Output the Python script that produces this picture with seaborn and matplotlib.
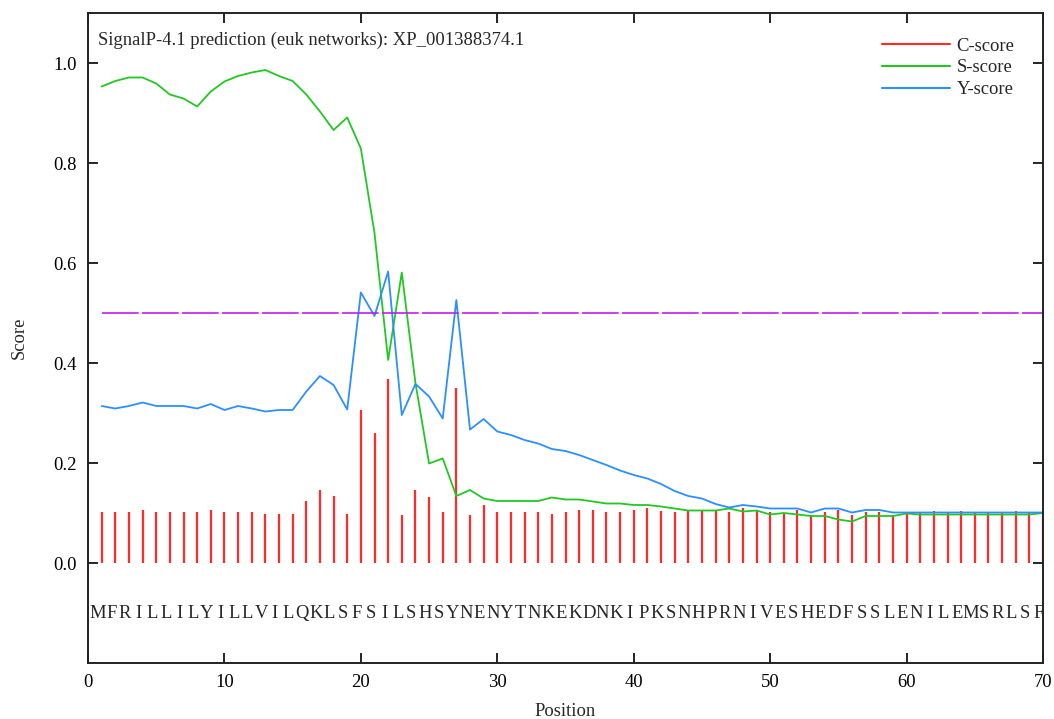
import numpy as np
import pandas as pd
import seaborn as sns
import matplotlib
matplotlib.use("Agg")
import matplotlib.pyplot as plt
from matplotlib.lines import Line2D

# SignalP-4.1 output
sequence = "MFRILLILYILLVILQKLSFSILSHSYNENYTNKEKDNKIPKSNHPRNIVESHEDFSSLENILEMSRLSF"
positions = np.arange(1, len(sequence) + 1)

c_score = [0.103, 0.103, 0.103, 0.107, 0.103, 0.103, 0.103, 0.103, 0.107, 0.103,
           0.103, 0.103, 0.099, 0.099, 0.099, 0.125, 0.146, 0.135, 0.099, 0.307,
           0.261, 0.369, 0.096, 0.146, 0.132, 0.103, 0.351, 0.096, 0.117, 0.103,
           0.103, 0.103, 0.103, 0.099, 0.103, 0.107, 0.107, 0.103, 0.103, 0.107,
           0.111, 0.105, 0.103, 0.104, 0.104, 0.104, 0.103, 0.111, 0.105, 0.103,
           0.101, 0.107, 0.096, 0.103, 0.107, 0.096, 0.103, 0.103, 0.096, 0.101,
           0.101, 0.105, 0.101, 0.105, 0.101, 0.101, 0.101, 0.105, 0.101, 0.100]

s_score = [0.953, 0.964, 0.971, 0.971, 0.959, 0.937, 0.929, 0.913, 0.943, 0.963,
           0.974, 0.981, 0.986, 0.974, 0.964, 0.937, 0.903, 0.866, 0.891, 0.829,
           0.660, 0.406, 0.581, 0.360, 0.199, 0.209, 0.134, 0.146, 0.129, 0.124,
           0.124, 0.124, 0.124, 0.131, 0.127, 0.127, 0.123, 0.119, 0.119, 0.116,
           0.116, 0.113, 0.109, 0.105, 0.105, 0.105, 0.109, 0.103, 0.105, 0.097,
           0.100, 0.097, 0.094, 0.094, 0.087, 0.083, 0.094, 0.094, 0.094, 0.099,
           0.097, 0.097, 0.097, 0.097, 0.097, 0.097, 0.097, 0.097, 0.097, 0.100]

y_score = [0.314, 0.309, 0.314, 0.321, 0.314, 0.314, 0.314, 0.309, 0.318, 0.306,
           0.314, 0.309, 0.303, 0.306, 0.306, 0.343, 0.374, 0.356, 0.307, 0.541,
           0.494, 0.583, 0.296, 0.358, 0.333, 0.289, 0.526, 0.267, 0.288, 0.263,
           0.256, 0.246, 0.239, 0.228, 0.224, 0.216, 0.206, 0.196, 0.185, 0.176,
           0.169, 0.158, 0.144, 0.134, 0.129, 0.118, 0.111, 0.116, 0.113, 0.109,
           0.109, 0.109, 0.101, 0.109, 0.109, 0.101, 0.106, 0.106, 0.101, 0.101,
           0.101, 0.101, 0.101, 0.101, 0.101, 0.101, 0.101, 0.101, 0.101, 0.101]

threshold = 0.5
title = "SignalP-4.1 prediction (euk networks): XP_001388374.1"

colors = {"C-score": "#ff2a2a", "S-score": "#22c822", "Y-score": "#2b8fff"}
thr_color = "#c21cf0"
fs = 13.4

# %%
sns.set_style("ticks")
plt.rcParams["font.family"] = ["Liberation Serif", "DejaVu Serif"]
plt.rcParams["font.size"] = fs

df = pd.DataFrame({
    "Position": np.concatenate([positions, positions]),
    "Score": s_score + y_score,
    "kind": ["S-score"] * len(s_score) + ["Y-score"] * len(y_score),
})

fig = plt.figure(figsize=(10.54, 7.19), dpi=100)
ax = fig.add_axes([88 / 1054, 1 - 663 / 719, 955 / 1054, 650 / 719])

ax.vlines(positions, 0, c_score, color=colors["C-score"], lw=1.6)
sns.lineplot(data=df, x="Position", y="Score", hue="kind", palette=colors,
             lw=1.3, ax=ax, legend=False)
ax.plot([positions[0], positions[-1]], [threshold, threshold], color=thr_color,
        lw=1.2, dashes=(22, 2))

for p, aa in zip(positions, sequence):
    ax.text(p - 0.3, -0.11, aa, ha="center", va="baseline", fontsize=fs)

ax.text(0.73, 1.036, title, ha="left", va="baseline", fontsize=fs)

ax.set_xlim(0, 70)
ax.set_ylim(-0.2, 1.1)
ax.set_xticks(range(0, 71, 10))
ax.set_yticks(np.arange(0, 1.01, 0.2))
ax.set_yticklabels([f"{v:.1f}" for v in np.arange(0, 1.01, 0.2)])
ax.tick_params(direction="in", length=7, width=1.2, top=True, right=True,
               pad=8, labelsize=fs, colors="black")
for s in ax.spines.values():
    s.set_linewidth(1.4)
    s.set_color("#222222")

ax.set_xlabel("Position", fontsize=fs)
ax.set_ylabel("Score", fontsize=fs)
ax.xaxis.set_label_coords(0.5, -0.062)
ax.yaxis.set_label_coords(-0.063, 0.5)

handles = [Line2D([], [], color=colors[k], lw=1.5) for k in colors]
ax.legend(handles, list(colors), loc="upper left", bbox_to_anchor=(0.831, 0.962),
          frameon=False, borderpad=0, borderaxespad=0, handlelength=3.65,
          handletextpad=0.38, labelspacing=0.25, fontsize=fs)

fig.savefig("out.png", dpi=100)
